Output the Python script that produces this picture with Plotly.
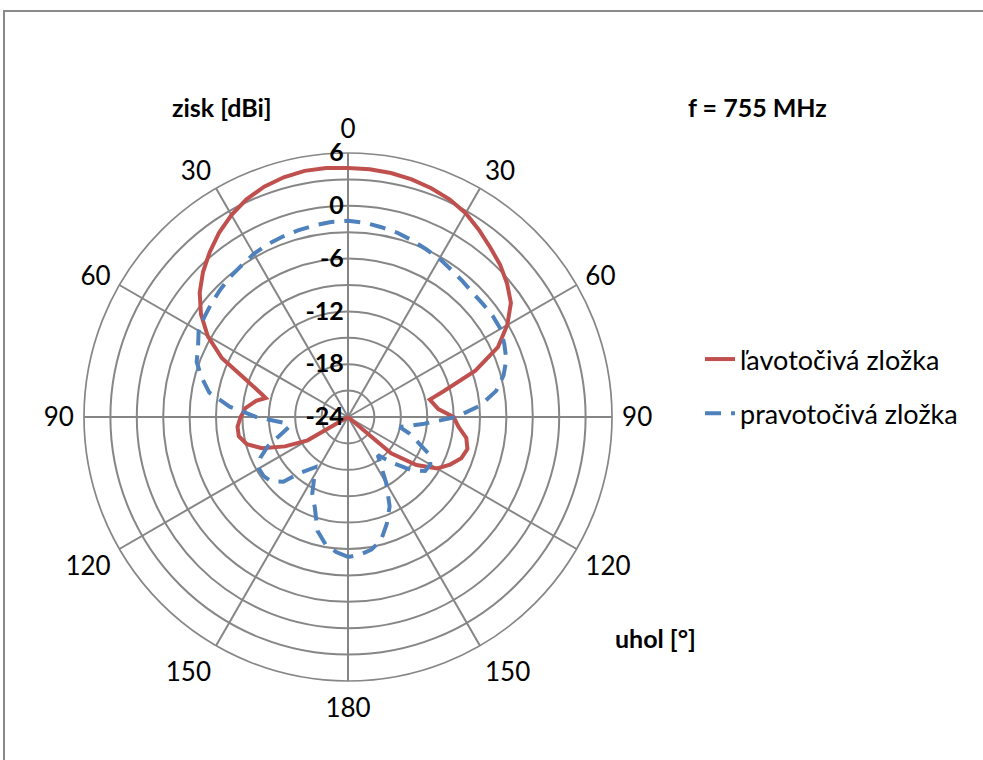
import plotly.graph_objects as go

# angle labels (clockwise from top) and radial gain ticks
angle_ticks = [0, 30, 60, 90, 120, 150, 180, 210, 240, 270, 300, 330]
angle_labels = ["0", "30", "60", "90", "120", "150", "180", "150", "120", "90", "60", "30"]
gain_ticks = [-24, -21, -18, -15, -12, -9, -6, -3, 0, 3, 6]
gain_labels = ["-24", "", "-18", "", "-12", "", "-6", "", "0", "", "6"]

# ľavotočivá zložka (LHCP)
lhcp_deg = [-180, -125, -120, -115, -110, -105, -100, -95, -90, -85, -80, -77, -75,
            -70, -65, -60, -55, -50, -45, -40, -35, -30, -25, -20, -15, -10, -5,
            0, 5, 10, 15, 20, 25, 30, 35, 40, 45, 50, 55, 60, 65, 70, 75, 78, 80,
            85, 90, 95, 100, 105, 110, 115, 120, 125, 130, 135, 180]
lhcp_db = [-24, -24, -18.7, -16.1, -13.6, -12.1, -11.4, -11.4, -11.8, -12.3, -13.4, -14.4, -13.8,
           -11.7, -8.2, -5.6, -3.6, -2.0, -0.7, 0.45, 1.55, 2.5, 3.3, 3.85, 4.2, 4.4, 4.4,
           4.3, 4.25, 4.15, 3.95, 3.66, 3.3, 2.75, 1.95, 1.15, 0.45, -0.4, -1.4, -3.1, -5.2, -8.6, -12.8, -14.5, -14.3,
           -13.7, -12.0, -11.4, -10.35, -9.95, -10.3, -11.2, -12.3, -14.5, -17.6, -24, -24]

# pravotočivá zložka (RHCP)
rhcp_deg = [-180, -175, -170, -165, -160, -155, -147, -140, -135, -130, -125, -120, -115,
            -110, -105, -99, -95, -90, -85, -80, -75, -70, -65, -60, -55, -50, -45, -40,
            -35, -30, -25, -20, -15, -10, -5, 0, 5, 10, 15, 20, 25, 30, 35, 40, 45, 50,
            55, 60, 65, 70, 75, 80, 85, 90, 95, 101, 105, 110, 115, 120, 125, 130, 135,
            142, 150, 155, 160, 165, 170, 175, 180]
rhcp_db = [-8.1, -8.6, -9.3, -10.6, -13.0, -14.4, -17.2, -15.8, -13.6, -12.6, -12.3, -12.3, -13.0,
           -14.3, -16.0, -17.3, -16.6, -13.6, -10.5, -8.0, -6.8, -5.7, -5.2, -4.4, -4.1, -3.8, -3.5, -3.2,
           -2.95, -2.6, -2.35, -2.2, -2.05, -1.9, -1.75, -1.7, -1.85, -2.1, -2.32, -2.65, -2.97, -3.22, -3.57, -3.8, -4.0, -4.0,
           -3.94, -3.98, -4.4, -4.85, -5.7, -6.9, -8.9, -11.7, -15.3, -18.0, -16.8, -15.5, -13.7, -13.2, -13.3, -14.6, -16.5,
           -18.5, -15.3, -12.8, -11.1, -9.5, -8.7, -8.3, -8.1]

W, H = 983, 760
FONT = "Lato"
GRID = "#868686"

fig = go.Figure()
fig.add_trace(go.Scatterpolar(
    r=lhcp_db, theta=lhcp_deg, mode="lines", name="ľavotočivá zložka",
    legendgroup="a", line=dict(color="#C0504D", width=4)
))
fig.add_trace(go.Scatterpolar(
    r=rhcp_db, theta=rhcp_deg, mode="lines", name="pravotočivá zložka",
    legendgroup="b", line=dict(color="#4F81BD", width=4, dash="16px,10px")
))

# polar area: centre (348, 417), radius 264 px
cx, cy, R = 348, 417, 264
fig.update_layout(
    width=W, height=H,
    margin=dict(l=0, r=0, t=0, b=0),
    paper_bgcolor="white",
    font=dict(family=FONT, color="black"),
    polar=dict(
        domain=dict(x=[(cx - R) / W, (cx + R) / W], y=[1 - (cy + R) / H, 1 - (cy - R) / H]),
        bgcolor="white",
        angularaxis=dict(
            rotation=90, direction="clockwise",
            tickvals=angle_ticks, ticktext=angle_labels,
            tickfont=dict(size=26, family=FONT),
            ticks="outside", ticklen=4, tickcolor="rgba(0,0,0,0)",
            showgrid=True, gridcolor=GRID, gridwidth=1.7,
            showline=True, linecolor=GRID, linewidth=1.7,
        ),
        radialaxis=dict(
            range=[-24, 6], angle=90, side="counterclockwise",
            tickvals=gain_ticks, ticktext=gain_labels, tickangle=90,
            tickfont=dict(size=25, family=FONT, weight="bold"),
            showgrid=True, gridcolor=GRID, gridwidth=1.7,
            showline=False, ticks="",
        ),
    ),
    legend=dict(
        x=700 / W, y=1 - 335 / H, xanchor="left", yanchor="top",
        font=dict(size=27, family=FONT), tracegroupgap=16,
        traceorder="grouped", bgcolor="rgba(0,0,0,0)",
    ),
    shapes=[dict(type="rect", xref="paper", yref="paper",
                 x0=4 / W, x1=1.02, y0=-0.02, y1=1 - 11 / H,
                 line=dict(color="#8a8a8a", width=2))],
)

for txt, x, y in [("<b>zisk [dBi]</b>", 222, 107), ("<b>f = 755 MHz</b>", 757, 107),
                  ("<b>uhol [°]</b>", 655, 638)]:
    fig.add_annotation(text=txt, x=x / W, y=1 - y / H, xref="paper", yref="paper",
                       xanchor="center", yanchor="middle",
                       showarrow=False, font=dict(size=25, family=FONT))

# drop the default page margin so the figure sits at the window's top-left corner
fig.write_html("out.html", config={"displayModeBar": False},
               post_script="document.body.style.margin='0';")
